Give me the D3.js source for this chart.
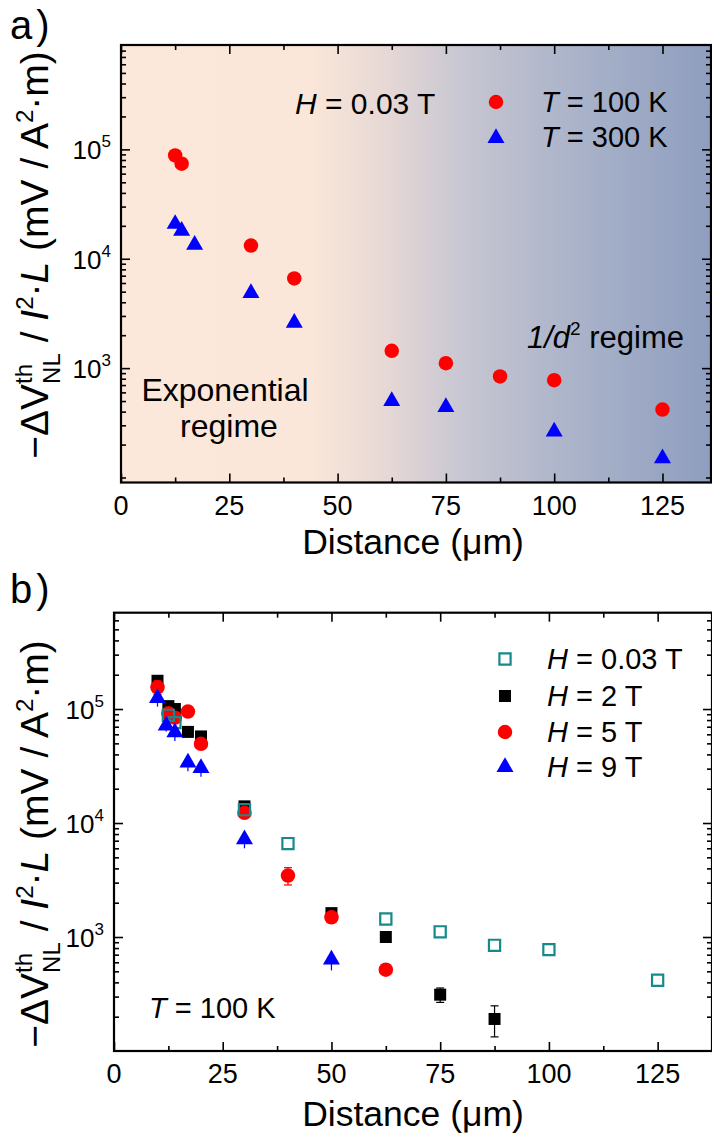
<!DOCTYPE html>
<html><head><meta charset="utf-8">
<script src="https://cdn.jsdelivr.net/npm/d3@7"></script>
<style>
body{margin:0;background:#fff}
svg{display:block}
text{font-family:"Liberation Sans",Arial,sans-serif;fill:#000}
</style>
</head><body>
<svg id="c" width="712" height="1140"></svg>
<script>
// ---------- data ----------
const xTickMajor = [0, 25, 50, 75, 100, 125];
const xTickMinor = [12.5, 37.5, 62.5, 87.5, 112.5, 137.5];
const yTickMajor = [1e3, 1e4, 1e5];
const yTickExp = ["3", "4", "5"];

// panel a
const a100K_d = [12.5, 14, 30, 40, 62.5, 75, 87.5, 100, 125];
const a100K_v = [8.8e4, 7.4e4, 1.32e4, 6.6e3, 1.44e3, 1.11e3, 840, 775, 418];
const a300K_d = [12.5, 14, 17, 30, 40, 62.5, 75, 100, 125];
const a300K_v = [2.08e4, 1.8e4, 1.34e4, 4.85e3, 2.6e3, 500, 440, 263, 150];
const aLegend = ["100 K", "300 K"];

// panel b
const b003_d = [12.5, 14, 30, 40, 62.5, 75, 87.5, 100, 125];
const b003_v = [8.8e4, 7.6e4, 1.31e4, 6.6e3, 1.44e3, 1.11e3, 845, 775, 418];
const b003_e = [0, 0, 0, 0, 0, 0, 0, 0, 0];
const b2_d = [10, 12.5, 14, 17, 20, 30, 50, 62.5, 75, 87.5];
const b2_v = [1.77e5, 1.06e5, 1.0e5, 6.3e4, 5.75e4, 1.4e4, 1.62e3, 1.0e3, 312, 191];
const b2_e = [0, 0, 0, 0, 0, 0, 100, 0, 45, 58];
const b5_d = [10, 12.5, 14, 17, 20, 30, 40, 50, 62.5];
const b5_v = [1.55e5, 9.2e4, 8.4e4, 9.5e4, 4.95e4, 1.23e4, 3.46e3, 1.49e3, 517];
const b5_e = [2.1e4, 0, 0, 0, 3e3, 0, 600, 150, 0];
const b9_d = [10, 12, 14, 17, 20, 30, 50];
const b9_v = [1.25e5, 7.15e4, 6.25e4, 3.39e4, 3.04e4, 7.2e3, 634];
const b9_e = [2e4, 8e3, 1e4, 5.5e3, 5e3, 1.2e3, 125];
const bLegend = ["0.03 T", "2 T", "5 T", "9 T"];

// ---------- drawing ----------
const svg = d3.select("#c");
const RED = "#ff0000", BLUE = "#0000ff", TEAL = "#17898a";

function frameAndTicks(g, x, y, tickDy, titleDy) {
  const [x0, x1] = x.range();
  const [y0, y1] = y.range(); // y0 bottom, y1 top
  const minorY = y.ticks().filter(v => !yTickMajor.includes(v) && v > y.domain()[0] && v < y.domain()[1]);
  const st = sel => sel.call(s => s.select(".domain").remove())
                       .selectAll("line").attr("stroke", "#000").attr("stroke-width", 1.6);
  g.append("g").attr("transform", `translate(0,${y0})`)
    .call(d3.axisBottom(x).tickValues(xTickMajor).tickSize(-9).tickFormat("")).call(st);
  g.append("g").attr("transform", `translate(0,${y0})`)
    .call(d3.axisBottom(x).tickValues(xTickMinor).tickSize(-5).tickFormat("")).call(st);
  g.append("g").attr("transform", `translate(0,${y1})`)
    .call(d3.axisTop(x).tickValues(xTickMajor).tickSize(-9).tickFormat("")).call(st);
  g.append("g").attr("transform", `translate(0,${y1})`)
    .call(d3.axisTop(x).tickValues(xTickMinor).tickSize(-5).tickFormat("")).call(st);
  g.append("g").attr("transform", `translate(${x0},0)`)
    .call(d3.axisLeft(y).tickValues(yTickMajor).tickSize(-9).tickFormat("")).call(st);
  g.append("g").attr("transform", `translate(${x0},0)`)
    .call(d3.axisLeft(y).tickValues(minorY).tickSize(-5).tickFormat("")).call(st);
  g.append("g").attr("transform", `translate(${x1},0)`)
    .call(d3.axisRight(y).tickValues(yTickMajor).tickSize(-9).tickFormat("")).call(st);
  g.append("g").attr("transform", `translate(${x1},0)`)
    .call(d3.axisRight(y).tickValues(minorY).tickSize(-5).tickFormat("")).call(st);
  g.append("rect").attr("x", x0).attr("y", y1).attr("width", x1 - x0).attr("height", y0 - y1)
    .attr("fill", "none").attr("stroke", "#000").attr("stroke-width", 2.2);

  // tick labels
  g.selectAll(".xl").data(xTickMajor).join("text")
    .attr("x", d => x(d)).attr("y", y0 + tickDy).attr("text-anchor", "middle")
    .attr("font-size", 27).text(d => d);
  const yl = g.selectAll(".yl").data(yTickMajor).join("text")
    .attr("x", x0 - 10).attr("y", d => y(d) + 10).attr("text-anchor", "end").attr("font-size", 26);
  yl.append("tspan").text("10");
  yl.append("tspan").attr("font-size", 17).attr("dy", -12).text((d, i) => yTickExp[i]);

  // x title
  g.append("text").attr("x", 413).attr("y", y0 + titleDy).attr("text-anchor", "middle")
    .attr("font-size", 35.5).text("Distance (\u03BCm)");
}

function yTitle(g, cx, cy) {
  const t = g.append("text").attr("transform", `translate(${cx},${cy}) rotate(-90)`)
    .attr("text-anchor", "middle").attr("font-size", 39);
  t.append("tspan").text("\u2212\u0394V");
  t.append("tspan").attr("font-size", 24).attr("dy", -16).text("th");
  t.append("tspan").attr("font-size", 24).attr("dx", -20).attr("dy", 28).text("NL");
  t.append("tspan").attr("dy", -12).text(" / ");
  t.append("tspan").attr("font-style", "italic").text("I");
  t.append("tspan").attr("font-size", 24).attr("dy", -15).text("2");
  t.append("tspan").attr("dy", 15).text("\u00B7");
  t.append("tspan").attr("font-style", "italic").text("L");
  t.append("tspan").text(" (mV / A");
  t.append("tspan").attr("font-size", 24).attr("dy", -15).text("2");
  t.append("tspan").attr("dy", 15).text("\u00B7m)");
}

function label(g, x, y, ch) {
  const t = g.append("text").attr("x", x).attr("y", y).attr("font-size", 40);
  t.append("tspan").text(ch);
  t.append("tspan").attr("dx", 4).text(")");
}

function italicText(g, x, y, it, rest, size) {
  const t = g.append("text").attr("x", x).attr("y", y).attr("font-size", size);
  t.append("tspan").attr("font-style", "italic").text(it);
  t.append("tspan").text(rest);
  return t;
}

const sym = (type, size) => d3.symbol().type(type).size(size)();

function series(g, x, y, ds, vs, es, shape, fill, stroke, size, cap) {
  const pts = ds.map((d, i) => ({d, v: vs[i], e: es ? es[i] : 0}));
  const eg = g.append("g");
  pts.filter(p => p.e > 0).forEach(p => {
    const yt = y(p.v + p.e), yb = y(p.v - p.e), xx = x(p.d);
    eg.append("line").attr("x1", xx).attr("x2", xx).attr("y1", yt).attr("y2", yb)
      .attr("stroke", stroke || fill).attr("stroke-width", 1.2);
    if (cap) [yt, yb].forEach(yy => eg.append("line").attr("x1", xx - cap).attr("x2", xx + cap)
      .attr("y1", yy).attr("y2", yy).attr("stroke", stroke || fill).attr("stroke-width", 1.2));
  });
  g.append("g").selectAll("path").data(pts).join("path")
    .attr("transform", p => `translate(${x(p.d)},${y(p.v)})`)
    .attr("d", sym(shape, size))
    .attr("fill", fill).attr("stroke", stroke || "none").attr("stroke-width", stroke ? 2.2 : 0);
}

// ---------- panel a ----------
const ga = svg.append("g");
const xA = d3.scaleLinear().domain([0, 136.2]).range([121, 711]);
const yA = d3.scaleLog().domain([90, 9e5]).range([482.5, 45]);

const defs = svg.append("defs");
const grad = defs.append("linearGradient").attr("id", "bg").attr("x1", 0).attr("x2", 1).attr("y1", 0).attr("y2", 0);
[[0, "#fce8da"], [0.32, "#fbe7d9"], [0.45, "#e6d8d5"], [0.58, "#c7c6d2"], [0.8, "#a6b0c8"], [1, "#8f9ebf"]]
  .forEach(([o, c]) => grad.append("stop").attr("offset", o).attr("stop-color", c));
ga.append("rect").attr("x", xA.range()[0]).attr("y", yA.range()[1])
  .attr("width", xA.range()[1] - xA.range()[0]).attr("height", yA.range()[0] - yA.range()[1])
  .attr("fill", "url(#bg)");

series(ga, xA, yA, a300K_d, a300K_v, null, d3.symbolTriangle, BLUE, null, 125);
series(ga, xA, yA, a100K_d, a100K_v, null, d3.symbolCircle, RED, null, 165);
frameAndTicks(ga, xA, yA, 32.5, 71.5);
yTitle(ga, 48, 255);
label(ga, 10, 39, "a");

italicText(ga, 295, 114, "H", " = 0.03 T", 30);
ga.append("path").attr("transform", "translate(496,102)").attr("d", sym(d3.symbolCircle, 165)).attr("fill", RED);
ga.append("path").attr("transform", "translate(496,138)").attr("d", sym(d3.symbolTriangle, 125)).attr("fill", BLUE);
italicText(ga, 541, 111.5, "T", " = " + aLegend[0], 29);
italicText(ga, 541, 147, "T", " = " + aLegend[1], 29);
const reg = ga.append("text").attr("x", 527).attr("y", 348).attr("font-size", 31);
reg.append("tspan").attr("font-style", "italic").text("1/d");
reg.append("tspan").attr("font-size", 19).attr("dy", -13).text("2");
reg.append("tspan").attr("dy", 13).text(" regime");
ga.append("text").attr("x", 225).attr("y", 401).attr("text-anchor", "middle").attr("font-size", 32).text("Exponential");
ga.append("text").attr("x", 229).attr("y", 437).attr("text-anchor", "middle").attr("font-size", 32).text("regime");

// ---------- panel b ----------
const gb = svg.append("g");
const xB = d3.scaleLinear().domain([0, 137.5]).range([114, 712]);
const yB = d3.scaleLog().domain([100, 7e5]).range([1051, 612.7]);

series(gb, xB, yB, b2_d, b2_v, b2_e, d3.symbolSquare, "#000", null, 144, 4);
series(gb, xB, yB, b5_d, b5_v, b5_e, d3.symbolCircle, RED, null, 165, 4);
series(gb, xB, yB, b003_d, b003_v, b003_e, d3.symbolSquare, "none", TEAL, 125, 4);
series(gb, xB, yB, b9_d, b9_v, b9_e, d3.symbolTriangle, BLUE, null, 125, 0);
frameAndTicks(gb, xB, yB, 31.5, 75);
yTitle(gb, 48, 844);
label(gb, 10, 603, "b");

const legY = [659, 696, 732, 767];
const legShapes = [[d3.symbolSquare, "none", TEAL, 125], [d3.symbolSquare, "#000", null, 144],
                   [d3.symbolCircle, RED, null, 165], [d3.symbolTriangle, BLUE, null, 125]];
legShapes.forEach(([s, f, st, sz], i) => {
  gb.append("path").attr("transform", `translate(505,${legY[i]})`).attr("d", sym(s, sz))
    .attr("fill", f).attr("stroke", st || "none").attr("stroke-width", st ? 2.2 : 0);
  italicText(gb, 547, legY[i] + 9.5, "H", " = " + bLegend[i], 29);
});
italicText(gb, 149, 1018, "T", " = 100 K", 29);
</script>
</body></html>
